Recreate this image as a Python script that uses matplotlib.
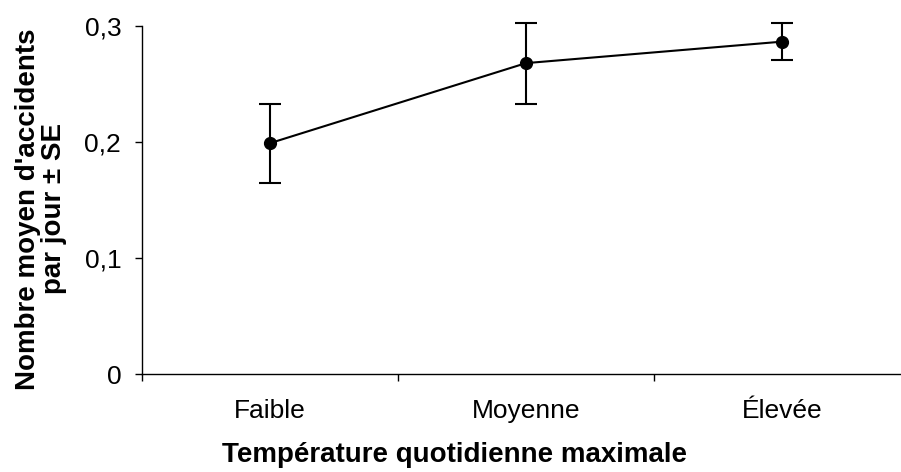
import matplotlib
matplotlib.use("Agg")
import matplotlib.pyplot as plt

categories = ["Faible", "Moyenne", "Élevée"]
means = [0.199, 0.268, 0.2865]
se = [0.034, 0.035, 0.016]
yticks = [0, 0.1, 0.2, 0.3]
ytick_labels = ["0", "0,1", "0,2", "0,3"]

plt.rcParams['font.family'] = ['Liberation Sans', 'DejaVu Sans']

W, H = 901, 472
fig = plt.figure(figsize=(W / 100, H / 100), dpi=100)
left, right, top, bottom = 142, 910, 26, 374
ax = fig.add_axes([left / W, 1 - bottom / H, (right - left) / W, (bottom - top) / H])

x = [1, 2, 3]
ax.errorbar(x, means, yerr=se, fmt='-o', color='black', lw=1.5, ms=8.5,
            elinewidth=1.5, capsize=8, capthick=1.5, clip_on=False)

ax.set_xlim(0.5, 3.5)
ax.set_ylim(0, 0.3)
ax.set_yticks(yticks)
ax.set_yticklabels(ytick_labels, fontsize=19)
ax.set_xticks(x)
ax.set_xticklabels(categories, fontsize=19)
ax.set_xticks([0.5, 1.5, 2.5, 3.5], minor=True)
ax.tick_params(axis='x', which='major', length=0, pad=18)
ax.tick_params(axis='x', which='minor', length=5, width=1)
ax.tick_params(axis='y', length=5, width=1, pad=10)

for s in ['top', 'right']:
    ax.spines[s].set_visible(False)
for s in ['left', 'bottom']:
    ax.spines[s].set_linewidth(1)

ax.set_xlabel("Température quotidienne maximale", fontsize=20, fontweight='bold')
ax.xaxis.set_label_coords((455 - left) / (right - left), -(442 - bottom) / (bottom - top))
ax.set_ylabel("Nombre moyen d'accidents\npar jour ± SE", fontsize=20, fontweight='bold', linespacing=1.0)
ax.yaxis.set_label_coords(-(142 - 67) / (right - left), (bottom - 209) / (bottom - top))

fig.savefig("out.png", dpi=100)
